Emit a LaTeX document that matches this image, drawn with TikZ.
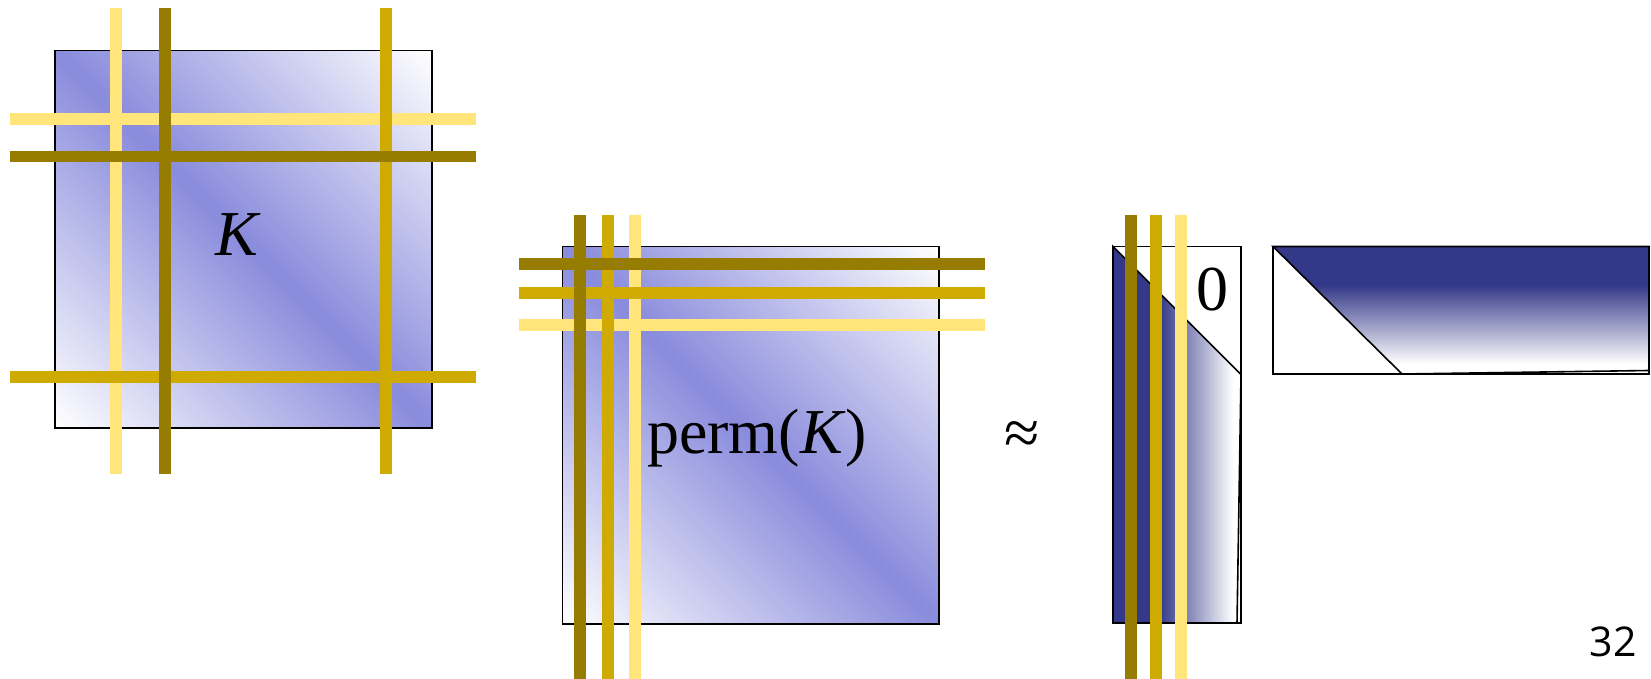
\documentclass[tikz,border=0pt]{standalone}
\usepackage{fontspec}
\setmainfont{Liberation Serif}
\newfontfamily\slidefont{Open Sans}
\definecolor{chopale}{HTML}{FFE57A}
\definecolor{chogold}{HTML}{CFAA00}
\definecolor{choolive}{HTML}{967C00}
\definecolor{chodiag}{HTML}{898BDC}
\definecolor{choink}{HTML}{333888}
\pgfdeclarehorizontalshading{kband}{100bp}{color(0bp)=(white); color(14.6bp)=(white); color(50bp)=(chodiag); color(85.4bp)=(white); color(100bp)=(white)}
\pgfdeclarehorizontalshading{lfade}{100bp}{color(0bp)=(choink); color(43bp)=(choink); color(72bp)=(white); color(100bp)=(white)}
\pgfdeclareverticalshading{ufade}{100bp}{color(0bp)=(white); color(29bp)=(white); color(60bp)=(choink); color(100bp)=(choink)}
\tikzset{
  edge/.style={draw=black, line width=1.6pt},
  mat/.style={edge, shading=kband, shading angle=45},
  lfill/.style={edge, shading=lfade},
  ufill/.style={edge, shading=ufade},
  bar/.style={line width=11.7pt},
  lbl/.style={font=\fontsize{64}{70}\selectfont, inner sep=0pt},
}

\begin{document}
\begin{tikzpicture}[x=1pt,y=-1pt]
  \useasboundingbox (0,0) rectangle (1651,679);
  % K with selected rows/columns
  \path[mat] (55,50.7) rectangle (432,428);
  \foreach \vx/\hy/\col in {115.8/119/chopale,386/377/chogold,165.3/156.5/choolive}
    { \draw[bar,\col] (\vx,8.3) -- (\vx,474); \draw[bar,\col] (9.5,\hy) -- (476,\hy); }
  \node[lbl, anchor=base] (klbl) at (238,255) {\textit{K}};
  % permuted
  \path[mat] (562.5,246.5) rectangle (939,624);
  \foreach \vx/\hy/\col in {635/324.8/chopale,607.8/292.7/chogold,579.7/264.3/choolive}
    { \draw[bar,\col] (\vx,215) -- (\vx,679); \draw[bar,\col] (518.6,\hy) -- (985,\hy); }
  \node[lbl, anchor=base] (permlbl) at (757,453) {perm(\textit{K})};
  \node[lbl] (approx) at (1022,438) {≈};
  % factors
  \draw[edge] (1113,246.5) rectangle (1241,623);
  \path[lfill] (1113,246.5) -- (1241,374.5) -- (1237,623) -- (1113,623) -- cycle;
  \node[lbl, anchor=base] (zero) at (1212.5,310) {0};
  \foreach \vx/\col in {1181/chopale,1156/chogold,1131/choolive}
    \draw[bar,\col] (\vx,215) -- (\vx,679);
  \draw[edge] (1273,246.5) rectangle (1649,374);
  \path[ufill] (1273,246.5) -- (1649,246.5) -- (1649,370.5) -- (1402,374) -- cycle;
  \node[font=\slidefont\fontsize{41}{45}\selectfont, inner sep=0pt] (pgno) at (1613,642) {32};
\end{tikzpicture}
\end{document}
